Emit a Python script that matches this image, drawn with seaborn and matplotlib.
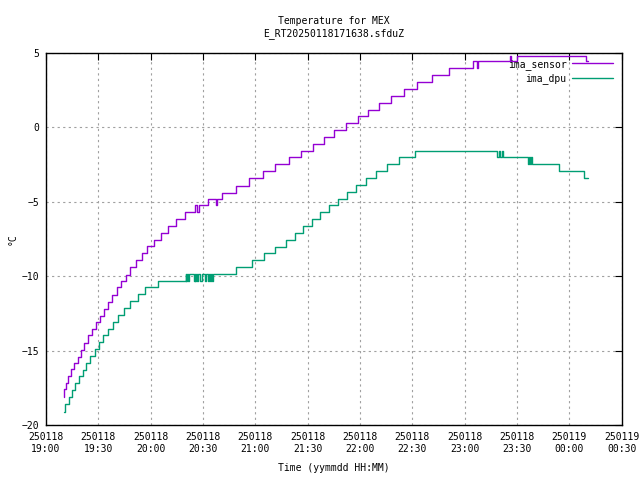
import pandas as pd
import numpy as np
import matplotlib
matplotlib.use("Agg")
import matplotlib.pyplot as plt
import matplotlib.dates as mdates
import seaborn as sns

# minutes after 2025-01-18 19:00 where the reading changes, and the new value (degC)
sensor_min = [10.5, 10.6, 11.3, 12.6, 14.2, 16.2, 18.2, 20.1, 22.0, 24.2,
              26.4, 28.8, 31.1, 33.4, 35.7, 38.0, 40.7, 43.2, 45.7, 48.1,
              51.6, 54.8, 58.0, 61.9, 66.1, 69.9, 74.5, 79.7, 85.6, 86.5,
              87.7, 93.0, 97.4, 98.0, 100.7, 108.7, 116.5, 124.5, 131.4, 139.4,
              146.1, 152.8, 159.1, 165.2, 172.1, 178.6, 184.3, 191.0, 197.9, 205.0,
              212.8, 221.2, 231.1, 244.8, 246.8, 247.4, 265.9, 266.7, 269.7, 309.8,
              310.7]
sensor_temp = [-18.10, -17.60, -17.16, -16.71, -16.26, -15.85, -15.41, -14.96, -14.47, -13.97,
               -13.55, -13.10, -12.65, -12.18, -11.73, -11.24, -10.75, -10.32, -9.90, -9.40,
               -8.91, -8.45, -7.97, -7.57, -7.12, -6.63, -6.18, -5.71, -5.24, -5.71,
               -5.24, -4.83, -5.24, -4.83, -4.39, -3.92, -3.42, -2.95, -2.48, -2.01,
               -1.61, -1.14, -0.67, -0.20, 0.27, 0.75, 1.17, 1.62, 2.09, 2.56,
               3.03, 3.50, 3.97, 4.48, 3.97, 4.48, 4.82, 4.48, 4.82, 4.48,
               4.48]

dpu_min = [10.5, 11.1, 13.2, 15.1, 16.8, 18.9, 21.0, 22.9, 25.4, 27.9,
           30.2, 32.7, 35.4, 38.2, 41.3, 44.5, 48.0, 52.5, 56.9, 64.4,
           80.1, 80.5, 81.0, 81.5, 81.9, 84.8, 85.2, 85.6, 86.0, 86.4,
           86.9, 88.2, 89.2, 91.1, 91.6, 93.0, 93.6, 94.1, 94.7, 95.3,
           95.9, 108.9, 117.9, 125.1, 131.4, 137.5, 142.5, 147.4, 152.4, 157.2,
           162.2, 167.5, 172.3, 177.8, 183.4, 189.3, 195.4, 202.1, 211.6, 258.8,
           259.4, 260.0, 261.1, 261.7, 276.4, 276.9, 277.5, 278.1, 278.7, 294.1,
           308.5, 310.7]
dpu_temp = [-19.10, -18.61, -18.12, -17.67, -17.20, -16.73, -16.30, -15.85, -15.36, -14.91,
            -14.44, -13.97, -13.53, -13.08, -12.61, -12.16, -11.69, -11.22, -10.75, -10.32,
            -9.87, -10.32, -9.87, -10.32, -9.87, -10.32, -9.87, -10.32, -9.87, -10.32,
            -9.87, -10.32, -9.87, -10.32, -9.87, -10.32, -9.87, -10.32, -9.87, -10.32,
            -9.87, -9.40, -8.93, -8.46, -8.02, -7.59, -7.12, -6.65, -6.18, -5.71,
            -5.24, -4.81, -4.36, -3.87, -3.42, -2.95, -2.48, -2.01, -1.61, -2.01,
            -1.61, -2.01, -1.61, -2.01, -2.48, -2.01, -2.48, -2.01, -2.48, -2.95,
            -3.42, -3.42]

series_names = ["ima_sensor", "ima_dpu"]
series_colors = ["#9400d3", "#009e73"]

t0 = pd.Timestamp("2025-01-18 19:00")
df = pd.concat([
    pd.DataFrame({"time": t0 + pd.to_timedelta(sensor_min, unit="min"),
                  "temp": sensor_temp, "series": "ima_sensor"}),
    pd.DataFrame({"time": t0 + pd.to_timedelta(dpu_min, unit="min"),
                  "temp": dpu_temp, "series": "ima_dpu"}),
], ignore_index=True)

sns.set_style("white")
plt.rcParams["font.family"] = ["DejaVu Sans Mono"]
plt.rcParams["font.size"] = 7
plt.rcParams["text.color"] = "black"
plt.rcParams["axes.labelcolor"] = "black"

fig = plt.figure(figsize=(6.4, 4.8), dpi=100)
ax = fig.add_axes([46 / 640, 1 - 425 / 480, 575.7 / 640, 372 / 480])

sns.lineplot(data=df, x="time", y="temp", hue="series", hue_order=series_names,
             palette=series_colors, drawstyle="steps-post", estimator=None,
             sort=False, lw=1, legend=False, ax=ax)

ax.set_xlim(t0, t0 + pd.Timedelta(minutes=330))
ax.set_ylim(-20, 5)
ax.set_yticks([-20, -15, -10, -5, 0, 5])
ax.xaxis.set_major_locator(mdates.MinuteLocator(byminute=[0, 30]))
ax.xaxis.set_major_formatter(mdates.DateFormatter("%y%m%d\n%H:%M"))

ax.grid(True, color="#a0a0a0", linestyle=(0, (2, 3)), lw=0.8)
for s in ax.spines.values():
    s.set_color("black")
    s.set_linewidth(1)
ax.tick_params(direction="in", length=5, width=0.8, top=True, right=True,
               labelsize=7, colors="black", pad=5)
for lab in ax.get_xticklabels():
    lab.set_linespacing(1.3)

ax.set_xlabel("Time (yymmdd HH:MM)", fontsize=7, labelpad=6)
ax.set_ylabel("°C", fontsize=7, labelpad=3)
ax.set_title("Temperature for MEX\nE_RT20250118171638.sfduZ", fontsize=7,
             pad=12, linespacing=1.3, color="black")

handles = [plt.Line2D([], [], color=c, lw=1) for c in series_colors]
ax.legend(handles, series_names, loc="upper right", frameon=False,
          markerfirst=False, fontsize=7, handlelength=4.2, handletextpad=0.6,
          labelspacing=0.35, bbox_to_anchor=(0.992, 0.995), borderaxespad=0)

fig.savefig("out.png", dpi=100)
